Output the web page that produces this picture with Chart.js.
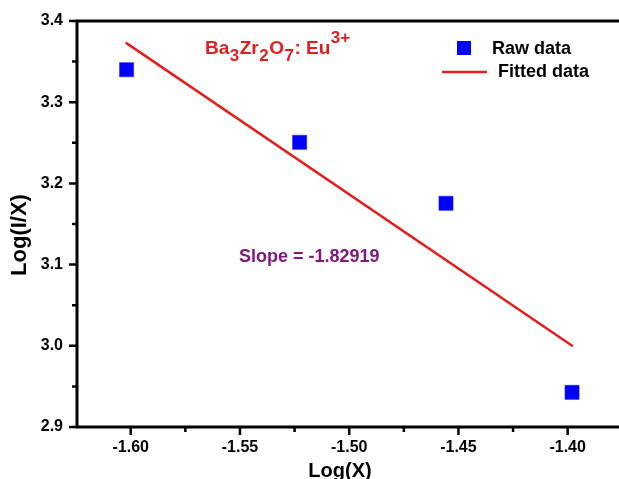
<!DOCTYPE html>
<html>
<head>
<meta charset="utf-8">
<script src="https://cdn.jsdelivr.net/npm/chart.js@4.4.1/dist/chart.umd.min.js"></script>
<style>
  html, body { margin: 0; padding: 0; background: #fff; }
  #wrap { width: 619px; height: 479px; }
</style>
</head>
<body>
<div id="wrap"><canvas id="chart"></canvas></div>
<script>
// measured points and the least-squares line through them
const rawX = [-1.6019, -1.5227, -1.4557, -1.398];
const rawY = [3.34, 3.2506, 3.1755, 2.9427];
const fitX = [-1.6023, -1.3976];
const fitY = [3.3734, 2.9994];

const xTicks = [-1.60, -1.55, -1.50, -1.45, -1.40];
const xMinorTicks = [-1.575, -1.525, -1.475, -1.425];
const yTicks = [2.9, 3.0, 3.1, 3.2, 3.3, 3.4];
const yMinorTicks = [2.95, 3.05, 3.15, 3.25, 3.35];

const slopeText = 'Slope = -1.82919';
const FONT = "'Liberation Sans', Arial, sans-serif";
const RED = '#e21e1e';
const BLUE = '#0000ff';

const toPoints = (xs, ys) => xs.map((v, i) => ({ x: v, y: ys[i] }));

// axes box, tick marks, titles, legend and labels
const frame = {
  id: 'frame',
  afterDraw(chart) {
    const { ctx, chartArea: a, scales: { x, y } } = chart;
    ctx.save();
    ctx.strokeStyle = '#000';
    ctx.lineWidth = 3;
    ctx.lineCap = 'square';
    ctx.beginPath();
    ctx.moveTo(a.left, a.top); ctx.lineTo(a.right + 2, a.top);
    ctx.moveTo(a.left, a.top); ctx.lineTo(a.left, a.bottom);
    ctx.lineTo(a.right + 2, a.bottom);
    ctx.stroke();

    ctx.lineWidth = 2.5;
    ctx.lineCap = 'butt';
    ctx.beginPath();
    xTicks.forEach(v => { const px = x.getPixelForValue(v); ctx.moveTo(px, a.bottom); ctx.lineTo(px, a.bottom + 8); });
    xMinorTicks.forEach(v => { const px = x.getPixelForValue(v); ctx.moveTo(px, a.bottom); ctx.lineTo(px, a.bottom + 5); });
    yTicks.forEach(v => { const py = y.getPixelForValue(v); ctx.moveTo(a.left, py); ctx.lineTo(a.left - 8, py); });
    yMinorTicks.forEach(v => { const py = y.getPixelForValue(v); ctx.moveTo(a.left, py); ctx.lineTo(a.left - 5, py); });
    ctx.stroke();

    // axis titles
    ctx.fillStyle = '#000';
    ctx.font = `bold 20px ${FONT}`;
    ctx.textAlign = 'center';
    ctx.textBaseline = 'alphabetic';
    ctx.fillText('Log(X)', 340, 477);
    ctx.save();
    ctx.translate(20, 235);
    ctx.rotate(-Math.PI / 2);
    ctx.font = `bold 22px ${FONT}`;
    ctx.textBaseline = 'middle';
    ctx.fillText('Log(I/X)', 0, 0);
    ctx.restore();

    // legend
    ctx.textAlign = 'left';
    ctx.textBaseline = 'middle';
    ctx.font = `bold 18px ${FONT}`;
    ctx.fillStyle = BLUE;
    ctx.fillRect(457, 41, 14, 14);
    ctx.fillStyle = '#000';
    ctx.fillText('Raw data', 492, 49);
    ctx.strokeStyle = RED;
    ctx.lineWidth = 2.5;
    ctx.beginPath();
    ctx.moveTo(442, 72); ctx.lineTo(487, 72);
    ctx.stroke();
    ctx.fillText('Fitted data', 498, 72);

    // compound name with sub/superscripts
    ctx.fillStyle = RED;
    ctx.textBaseline = 'alphabetic';
    const base = 54;
    let cx = 205;
    const parts = [
      ['Ba', 19, 0], ['3', 17, 7], ['Zr', 19, 0], ['2', 17, 7],
      ['O', 19, 0], ['7', 17, 7], [': Eu', 19, 0], ['3+', 17, -11]
    ];
    parts.forEach(([t, size, dy]) => {
      ctx.font = `bold ${size}px ${FONT}`;
      ctx.fillText(t, cx, base + dy);
      cx += ctx.measureText(t).width + 0.5;
    });

    ctx.fillStyle = '#80187f';
    ctx.font = `bold 18px ${FONT}`;
    ctx.textBaseline = 'middle';
    ctx.fillText(slopeText, 239, 257);
    ctx.restore();
  }
};

new Chart(document.getElementById('chart'), {
  type: 'scatter',
  data: {
    datasets: [{
      label: 'Raw data',
      data: toPoints(rawX, rawY),
      pointStyle: 'rect',
      pointRadius: 10,
      pointBackgroundColor: BLUE,
      pointBorderColor: '#1a1aee',
      pointBorderWidth: 0.5,
      showLine: false
    }, {
      label: 'Fitted data',
      data: toPoints(fitX, fitY),
      showLine: true,
      borderColor: RED,
      borderWidth: 2.5,
      pointRadius: 0
    }]
  },
  options: {
    responsive: true,
    maintainAspectRatio: false,
    animation: false,
    layout: { autoPadding: false, padding: { top: 21, right: 0, left: 0, bottom: 0 } },
    plugins: {
      legend: { display: false },
      tooltip: { enabled: false }
    },
    scales: {
      x: {
        type: 'linear',
        min: -1.6246,
        max: -1.3765,
        afterBuildTicks: s => { s.ticks = xTicks.map(v => ({ value: v })); },
        afterFit: s => { s.height = 52; s.paddingLeft = 0; s.paddingRight = 0; },
        grid: { display: false, drawTicks: false },
        border: { display: false },
        ticks: {
          color: '#000',
          padding: 11,
          maxRotation: 0,
          font: { family: FONT, size: 16, weight: 'bold' },
          callback: v => v.toFixed(2)
        }
      },
      y: {
        type: 'linear',
        min: 2.9,
        max: 3.4,
        afterBuildTicks: s => { s.ticks = yTicks.map(v => ({ value: v })); },
        afterFit: s => { s.width = 77; s.paddingTop = 0; s.paddingBottom = 0; },
        grid: { display: false, drawTicks: false },
        border: { display: false },
        ticks: {
          color: '#000',
          padding: 14,
          font: { family: FONT, size: 16, weight: 'bold' },
          callback: v => v.toFixed(1)
        }
      }
    }
  },
  plugins: [frame]
});
</script>
</body>
</html>
